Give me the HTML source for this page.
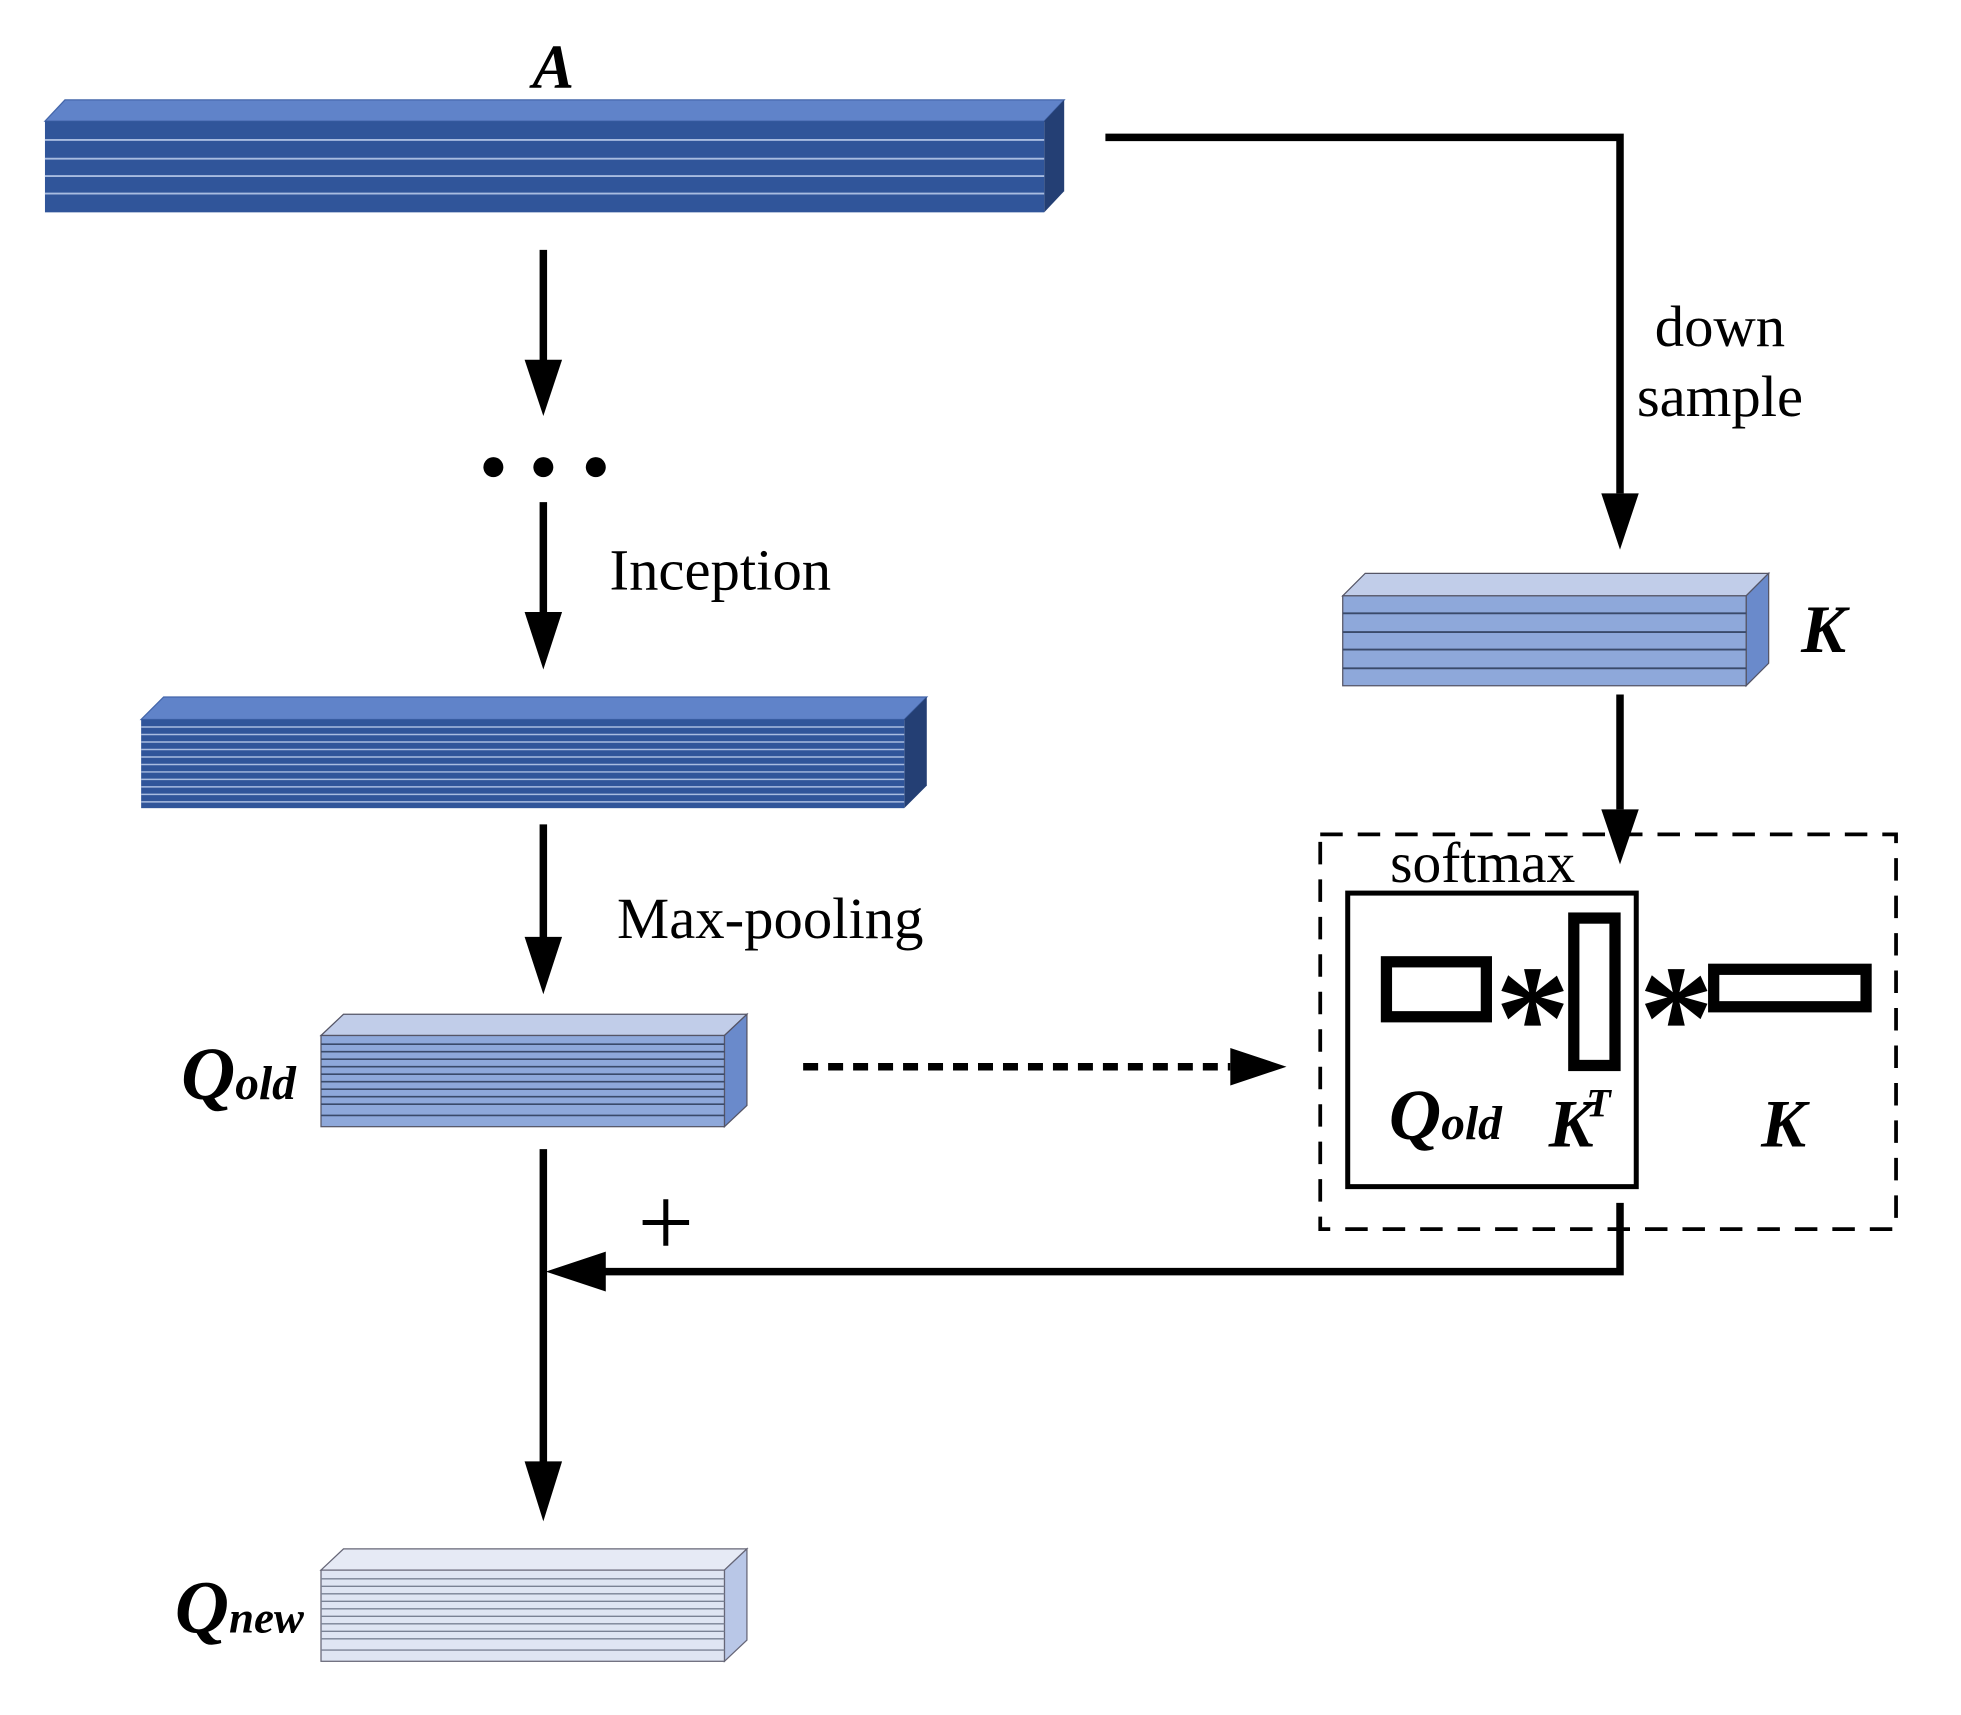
<!DOCTYPE html>
<html><head><style>html,body{margin:0;padding:0;background:#fff}svg{display:block}text{font-family:"Liberation Serif","Times New Roman",serif}</style></head>
<body>
<svg width="1961" height="1715" viewBox="0 0 1570 1373" preserveAspectRatio="none" xmlns="http://www.w3.org/2000/svg">
<g>
<!-- A block -->
<polygon points="36,97 52,80 852,80 836,97" fill="#6083c9" stroke="#4466aa" stroke-width="1"/>
<polygon points="836,97 852,80 852,153 836,170" fill="#243f74"/>
<rect x="36" y="97" width="800" height="73" fill="#30559a"/>
<g stroke="#a8bce0" stroke-width="1.5"><line x1="36" y1="112" x2="836" y2="112"/><line x1="36" y1="127" x2="836" y2="127"/><line x1="36" y1="141" x2="836" y2="141"/><line x1="36" y1="155" x2="836" y2="155"/></g>
<text x="443" y="70" font-size="50" font-weight="bold" font-style="italic" text-anchor="middle">A</text>

<!-- connector A -> K -->
<polyline points="885,110 1297,110 1297,395" fill="none" stroke="#000" stroke-width="6"/>
<polygon points="1282,395 1312,395 1297,440" fill="#000"/>
<text x="1377" y="277" font-size="47" text-anchor="middle">down</text>
<text x="1377" y="333" font-size="47" text-anchor="middle">sample</text>

<!-- K block -->
<polygon points="1075,477 1093,459 1416,459 1398,477" fill="#c1cde9" stroke="#556" stroke-width="1"/>
<polygon points="1398,477 1416,459 1416,531 1398,549" fill="#6a8acb" stroke="#556" stroke-width="1"/>
<rect x="1075" y="477" width="323" height="72" fill="#8ea8da" stroke="#556" stroke-width="1"/>
<g stroke="#3a4a6a" stroke-width="1.5"><line x1="1075" y1="491" x2="1398" y2="491"/><line x1="1075" y1="506" x2="1398" y2="506"/><line x1="1075" y1="520" x2="1398" y2="520"/><line x1="1075" y1="535" x2="1398" y2="535"/></g>
<text x="1460" y="522" font-size="54" font-weight="bold" font-style="italic" text-anchor="middle">K</text>

<line x1="1297" y1="556" x2="1297" y2="648" stroke="#000" stroke-width="6"/>
<polygon points="1282,648 1312,648 1297,692" fill="#000"/>

<!-- dashed box -->
<rect x="1057" y="668" width="461" height="316" fill="none" stroke="#000" stroke-width="3" stroke-dasharray="18 12"/>
<text x="1113" y="706" font-size="46">softmax</text>
<rect x="1079" y="715" width="231" height="235" fill="none" stroke="#000" stroke-width="4"/>
<rect x="1110" y="770" width="80" height="44" fill="none" stroke="#000" stroke-width="9"/>
<rect x="1260" y="735" width="33" height="118" fill="none" stroke="#000" stroke-width="9"/>
<rect x="1372" y="776" width="122" height="30" fill="none" stroke="#000" stroke-width="9"/>
<text x="1227" y="855" font-size="120" font-weight="bold" text-anchor="middle">*</text>
<text x="1342" y="855" font-size="120" font-weight="bold" text-anchor="middle">*</text>
<text x="1112" y="912" font-size="58" font-weight="bold" font-style="italic">Q<tspan font-size="38" font-weight="bold">old</tspan></text>
<text x="1240" y="918" font-size="54" font-weight="bold" font-style="italic">K<tspan font-size="32" dy="-24" dx="-6">T</tspan></text>
<text x="1428" y="918" font-size="54" font-weight="bold" font-style="italic" text-anchor="middle">K</text>

<!-- return line -->
<polyline points="1297,963 1297,1018 482,1018" fill="none" stroke="#000" stroke-width="6"/>
<polygon points="485,1002 485,1034 437,1018" fill="#000"/>
<text x="533" y="1005" font-size="80" text-anchor="middle">+</text>

<!-- left arrows -->
<line x1="435" y1="200" x2="435" y2="290" stroke="#000" stroke-width="6"/>
<polygon points="420,288 450,288 435,333" fill="#000"/>
<circle cx="395" cy="374" r="8"/><circle cx="435" cy="374" r="8"/><circle cx="477" cy="374" r="8"/>
<line x1="435" y1="402" x2="435" y2="492" stroke="#000" stroke-width="6"/>
<polygon points="420,490 450,490 435,536" fill="#000"/>
<text x="488" y="472" font-size="47">Inception</text>

<!-- middle block -->
<polygon points="113,576 131,558 742,558 724,576" fill="#6083c9" stroke="#4466aa" stroke-width="1"/>
<polygon points="724,576 742,558 742,629 724,647" fill="#243f74"/>
<rect x="113" y="576" width="611" height="71" fill="#30559a"/>
<g stroke="#a8bce0" stroke-width="1.2">
<line x1="113" y1="582" x2="724" y2="582"/><line x1="113" y1="588" x2="724" y2="588"/><line x1="113" y1="594" x2="724" y2="594"/><line x1="113" y1="600" x2="724" y2="600"/><line x1="113" y1="606" x2="724" y2="606"/><line x1="113" y1="612" x2="724" y2="612"/><line x1="113" y1="618" x2="724" y2="618"/><line x1="113" y1="624" x2="724" y2="624"/><line x1="113" y1="630" x2="724" y2="630"/><line x1="113" y1="636" x2="724" y2="636"/><line x1="113" y1="642" x2="724" y2="642"/>
</g>

<line x1="435" y1="660" x2="435" y2="752" stroke="#000" stroke-width="6"/>
<polygon points="420,750 450,750 435,796" fill="#000"/>
<text x="494" y="751" font-size="47">Max-pooling</text>

<!-- Qold block -->
<polygon points="257,829 275,812 598,812 580,829" fill="#c1cde9" stroke="#556" stroke-width="1"/>
<polygon points="580,829 598,812 598,885 580,902" fill="#6a8acb" stroke="#556" stroke-width="1"/>
<rect x="257" y="829" width="323" height="73" fill="#8ea8da" stroke="#556" stroke-width="1"/>
<g stroke="#3a4a6a" stroke-width="1.3">
<line x1="257" y1="836" x2="580" y2="836"/><line x1="257" y1="842" x2="580" y2="842"/><line x1="257" y1="848" x2="580" y2="848"/><line x1="257" y1="854" x2="580" y2="854"/><line x1="257" y1="860" x2="580" y2="860"/><line x1="257" y1="866" x2="580" y2="866"/><line x1="257" y1="872" x2="580" y2="872"/><line x1="257" y1="878" x2="580" y2="878"/><line x1="257" y1="884" x2="580" y2="884"/><line x1="257" y1="893" x2="580" y2="893"/>
</g>
<text x="145" y="880" font-size="60" font-weight="bold" font-style="italic">Q<tspan font-size="38">old</tspan></text>

<!-- dotted arrow -->
<line x1="643" y1="854" x2="985" y2="854" stroke="#000" stroke-width="6" stroke-dasharray="12 8"/>
<polygon points="985,839 985,869 1030,854" fill="#000"/>

<line x1="435" y1="920" x2="435" y2="1172" stroke="#000" stroke-width="6"/>
<polygon points="420,1170 450,1170 435,1218" fill="#000"/>

<!-- Qnew block -->
<polygon points="257,1257 275,1240 598,1240 580,1257" fill="#e6eaf5" stroke="#667" stroke-width="1"/>
<polygon points="580,1257 598,1240 598,1313 580,1330" fill="#b9c7e7" stroke="#667" stroke-width="1"/>
<rect x="257" y="1257" width="323" height="73" fill="#dfe5f3" stroke="#667" stroke-width="1"/>
<g stroke="#7a8294" stroke-width="1.1">
<line x1="257" y1="1264" x2="580" y2="1264"/><line x1="257" y1="1270" x2="580" y2="1270"/><line x1="257" y1="1276" x2="580" y2="1276"/><line x1="257" y1="1282" x2="580" y2="1282"/><line x1="257" y1="1288" x2="580" y2="1288"/><line x1="257" y1="1294" x2="580" y2="1294"/><line x1="257" y1="1300" x2="580" y2="1300"/><line x1="257" y1="1306" x2="580" y2="1306"/><line x1="257" y1="1312" x2="580" y2="1312"/><line x1="257" y1="1321" x2="580" y2="1321"/>
</g>
<text x="140" y="1307" font-size="60" font-weight="bold" font-style="italic">Q<tspan font-size="36">new</tspan></text>
</g>
</svg>
</body></html>
